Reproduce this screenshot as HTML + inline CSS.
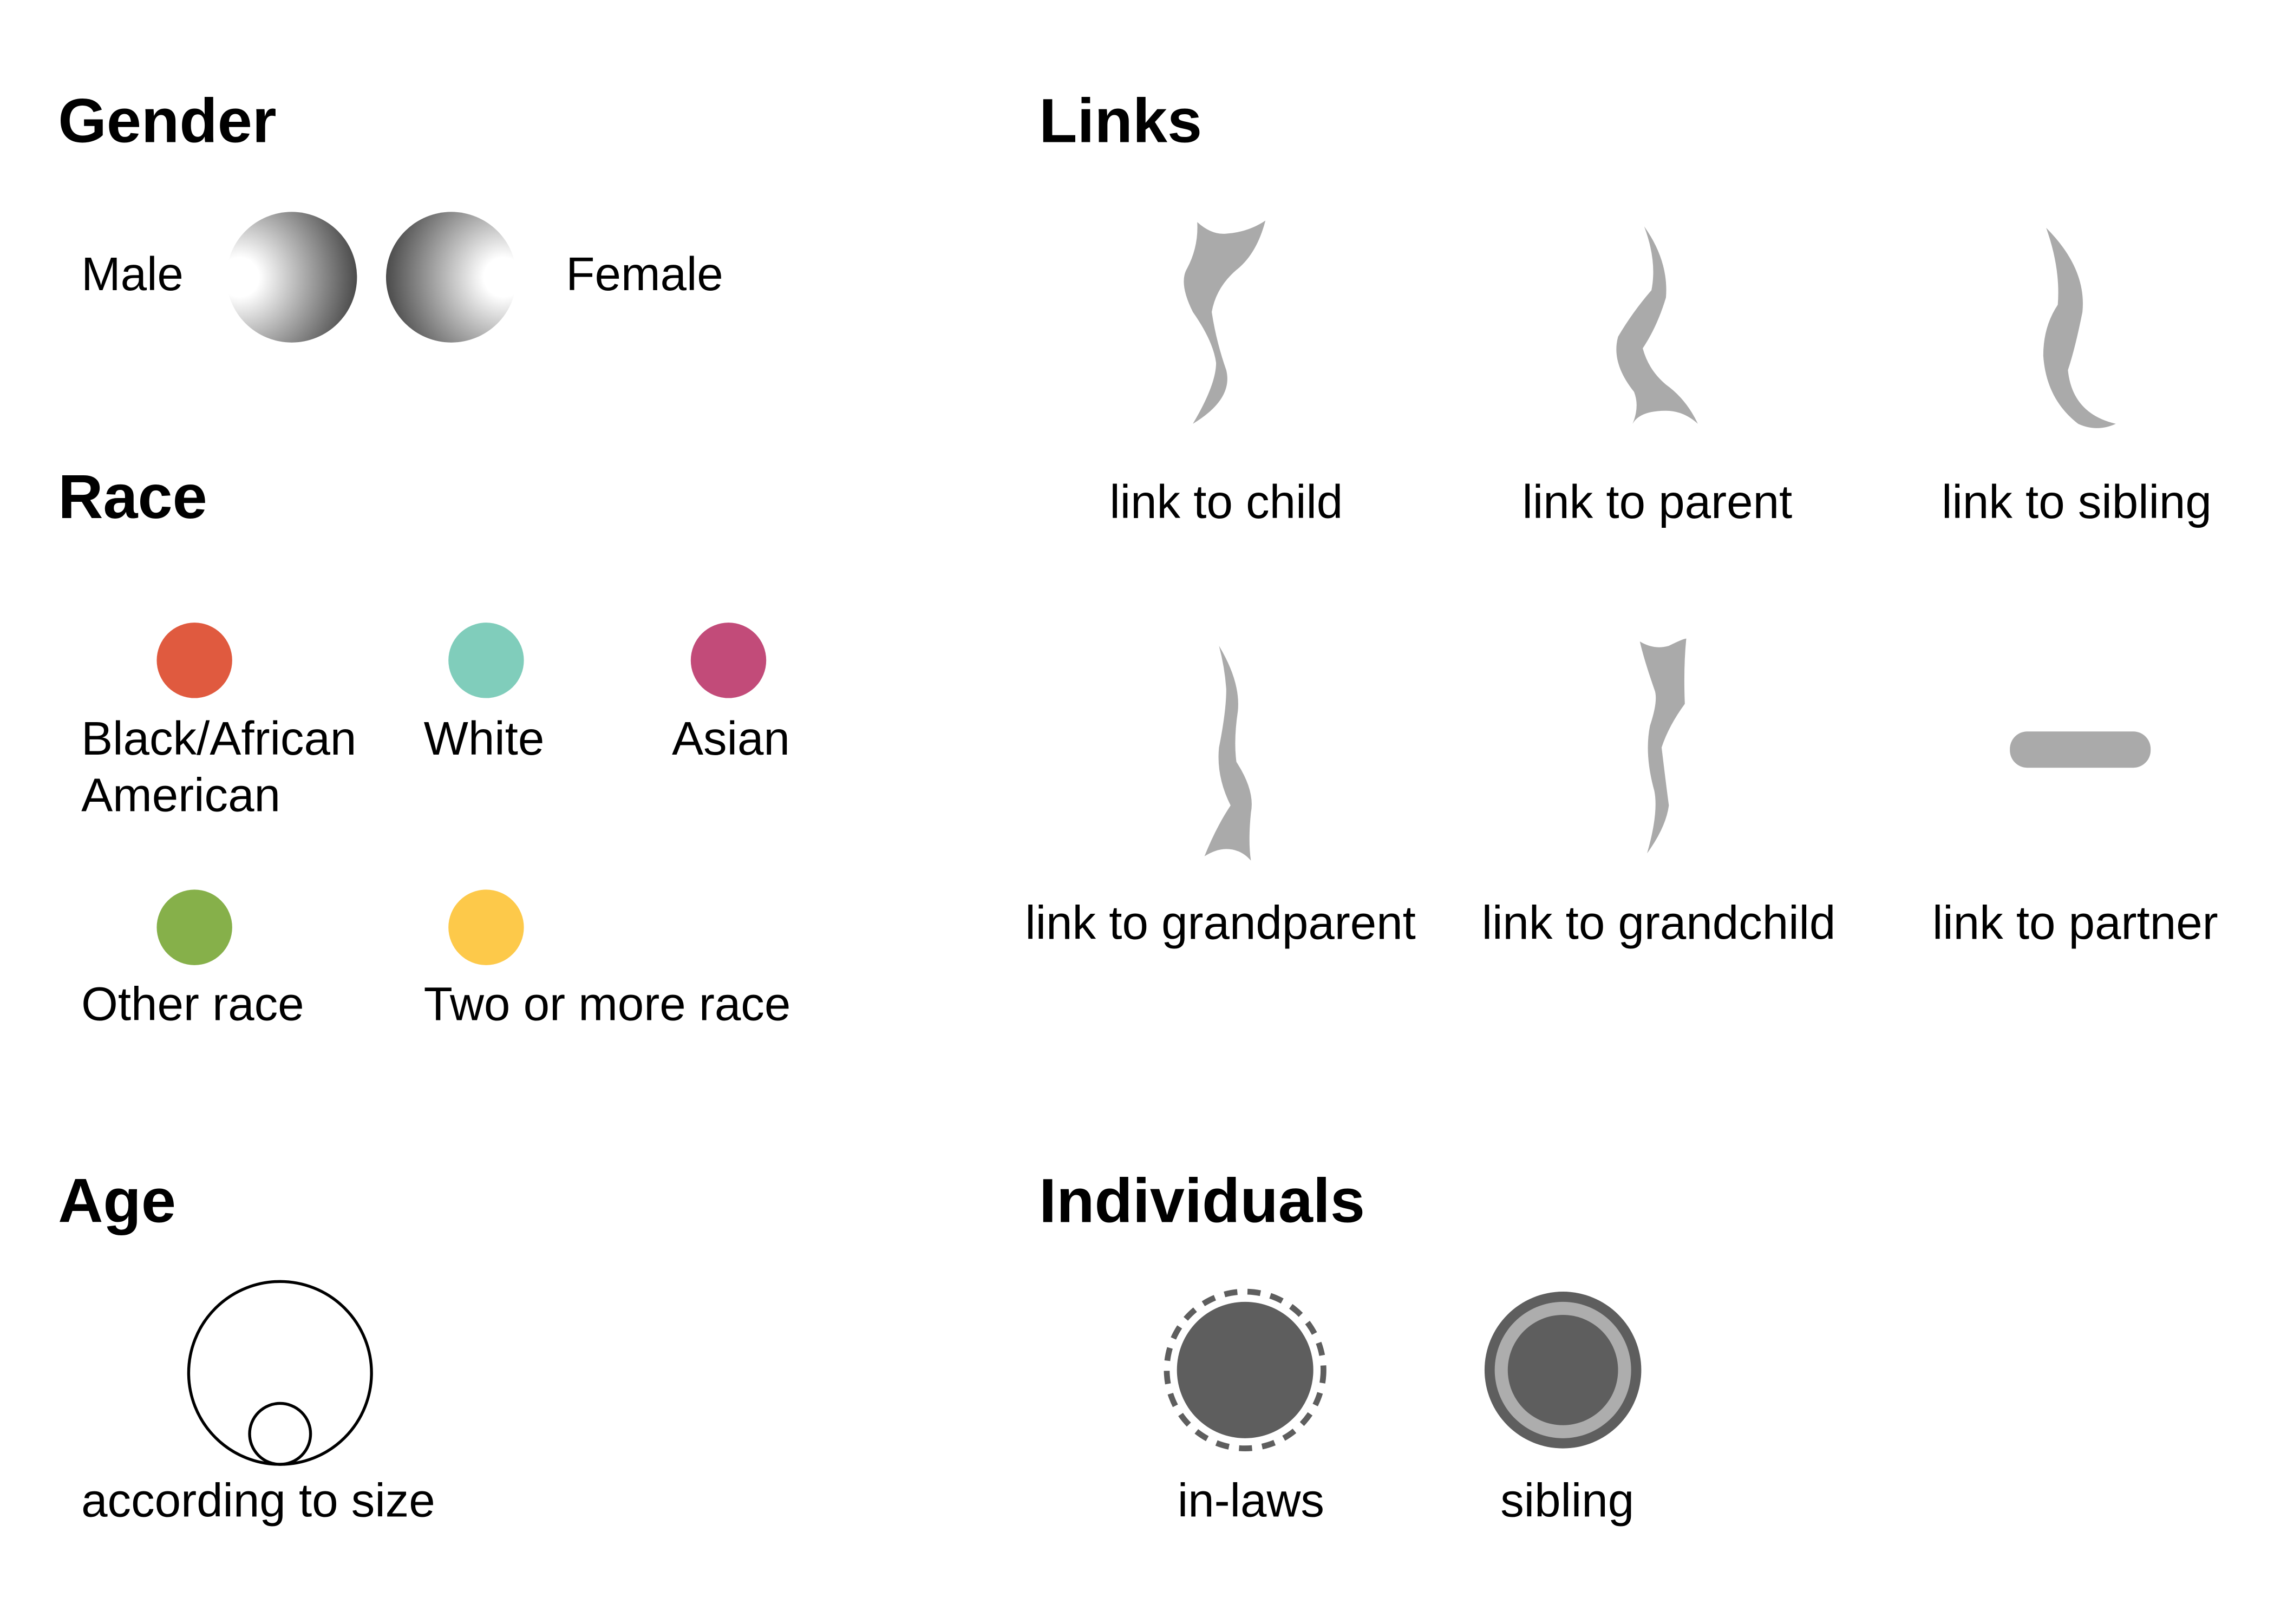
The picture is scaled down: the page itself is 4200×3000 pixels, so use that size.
<!DOCTYPE html>
<html><head><meta charset="utf-8"><style>
html,body{margin:0;padding:0;background:#fff;}
svg{display:block;}
text{font-family:"Liberation Sans",sans-serif;fill:#000;}
.h{font-size:43px;font-weight:bold;}
.l{font-size:32.5px;}
</style></head><body>
<svg width="4200" height="3000" viewBox="0 0 1567 1119" preserveAspectRatio="none" xmlns="http://www.w3.org/2000/svg">
<defs>
<radialGradient id="gm" cx="165" cy="191" r="90" gradientUnits="userSpaceOnUse">
<stop offset="0.15" stop-color="#fff"/><stop offset="1" stop-color="#333"/></radialGradient>
<radialGradient id="gf" cx="347" cy="191" r="90" gradientUnits="userSpaceOnUse">
<stop offset="0.15" stop-color="#fff"/><stop offset="1" stop-color="#333"/></radialGradient>
</defs>
<rect width="1567" height="1119" fill="#fff"/>
<text class="h" x="40" y="98">Gender</text>
<text class="h" x="716" y="98">Links</text>
<text class="h" x="40" y="357">Race</text>
<text class="h" x="40" y="842">Age</text>
<text class="h" x="716" y="842">Individuals</text>

<text class="l" x="56" y="200">Male</text>
<circle cx="201" cy="191" r="45" fill="url(#gm)"/>
<circle cx="311" cy="191" r="45" fill="url(#gf)"/>
<text class="l" x="390" y="200">Female</text>

<circle cx="134" cy="455" r="26" fill="#e05a3f"/>
<circle cx="335" cy="455" r="26" fill="#80cdbb"/>
<circle cx="502" cy="455" r="26" fill="#c24b79"/>
<circle cx="134" cy="639" r="26" fill="#86b04a"/>
<circle cx="335" cy="639" r="26" fill="#fdc94a"/>
<text class="l" x="56" y="520">Black/African</text>
<text class="l" x="56" y="559">American</text>
<text class="l" x="292" y="520">White</text>
<text class="l" x="463" y="520">Asian</text>
<text class="l" x="56" y="703">Other race</text>
<text class="l" x="292" y="703">Two or more race</text>

<circle cx="193" cy="946" r="63" fill="none" stroke="#000" stroke-width="2"/>
<circle cx="193" cy="988" r="21" fill="none" stroke="#000" stroke-width="2"/>
<text class="l" x="56" y="1045">according to size</text>

<circle cx="858" cy="944" r="54" fill="none" stroke="#5e5e5e" stroke-width="4" stroke-dasharray="9 7"/>
<circle cx="858" cy="944" r="47" fill="#5e5e5e"/>
<circle cx="1077" cy="944" r="54" fill="#5e5e5e"/>
<circle cx="1077" cy="944" r="47" fill="#adadad"/>
<circle cx="1077" cy="944" r="38" fill="#5e5e5e"/>
<text class="l" x="862" y="1045" text-anchor="middle">in-laws</text>
<text class="l" x="1080" y="1045" text-anchor="middle">sibling</text>

<g fill="#aaa">
<path d="M825,153 Q835,162 845,161 Q860,160 872,152 Q866,175 852,186 Q838,198 835,215 Q838,235 845,255 Q850,275 822,292 Q838,265 838,250 Q836,235 822,215 Q812,195 818,185 Q826,170 825,153Z"/>
<path d="M1133,156 Q1150,180 1148,205 Q1142,225 1132,240 Q1136,255 1148,265 Q1162,275 1170,292 Q1160,283 1148,283 Q1130,283 1125,292 Q1130,280 1126,270 Q1110,250 1115,232 Q1125,215 1138,200 Q1142,180 1133,156Z"/>
<path d="M1410,157 Q1438,185 1435,215 Q1430,240 1425,255 Q1428,285 1458,292 Q1445,298 1432,292 Q1410,275 1408,245 Q1408,225 1418,210 Q1420,185 1410,157Z"/>
<path d="M840,445 Q855,470 853,490 Q850,510 852,525 Q865,545 862,560 Q860,580 862,593 Q855,585 845,585 Q838,585 830,590 Q838,570 848,555 Q838,535 840,515 Q845,490 845,475 Q844,460 840,445Z"/>
<path d="M1130,442 Q1140,448 1150,445 Q1160,440 1162,440 Q1160,460 1161,485 Q1150,500 1145,515 Q1148,540 1150,555 Q1148,570 1135,588 Q1143,560 1140,545 Q1133,520 1137,500 Q1143,482 1140,475 Q1133,455 1130,442Z"/>
<rect x="1385" y="504" width="97" height="25" rx="12" fill="#aaa"/>
</g>
<text class="l" x="845" y="357" text-anchor="middle">link to child</text>
<text class="l" x="1142" y="357" text-anchor="middle">link to parent</text>
<text class="l" x="1431" y="357" text-anchor="middle">link to sibling</text>
<text class="l" x="841" y="647" text-anchor="middle">link to grandparent</text>
<text class="l" x="1143" y="647" text-anchor="middle">link to grandchild</text>
<text class="l" x="1430" y="647" text-anchor="middle">link to partner</text>
</svg>
</body></html>
